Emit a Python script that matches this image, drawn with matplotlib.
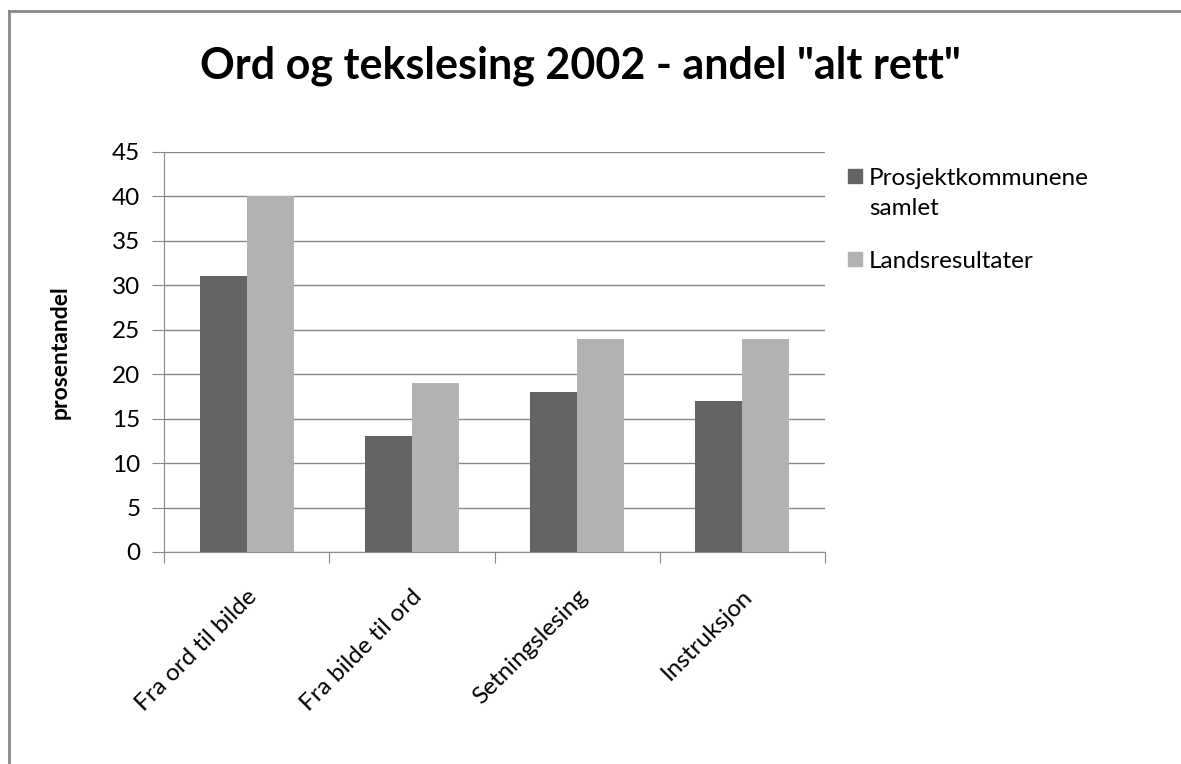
import matplotlib
matplotlib.use('Agg')
import numpy as np
import matplotlib.pyplot as plt
from matplotlib.patches import Rectangle
from matplotlib.lines import Line2D

categories = ['Fra ord til bilde', 'Fra bilde til ord', 'Setningslesing', 'Instruksjon']
prosjekt = [31, 13, 18, 17]
lands = [40, 19, 24, 24]
series_names = ['Prosjektkommunene\nsamlet', 'Landsresultater']
colors = ['#646464', '#b2b2b2']

plt.rcParams['font.family'] = ['Lato', 'DejaVu Sans']

fig = plt.figure(figsize=(11.81, 7.64), dpi=100)
ax = fig.add_axes([164/1181, 1 - 552/764, (825 - 164)/1181, 400/764])

x = np.arange(len(categories))
w = 0.285
ax.bar(x - w/2, prosjekt, w, color=colors[0], zorder=3)
ax.bar(x + w/2, lands, w, color=colors[1], zorder=3)

ax.set_xlim(-0.5, len(categories) - 0.5)
ax.set_ylim(0, 45)
ax.set_yticks(range(0, 46, 5))
ax.yaxis.grid(True, color='#888888', linewidth=1, zorder=0)
ax.tick_params(axis='y', length=9, color='#888888', labelsize=17.5, pad=8)

ax.set_xticks(np.arange(-0.5, len(categories), 1.0))
ax.set_xticklabels([])
ax.tick_params(axis='x', length=8, color='#888888', direction='out')
for i, lab in enumerate(categories):
    ax.text(i + 0.04, -4.6, lab, rotation=45, rotation_mode='anchor',
            ha='right', va='center', fontsize=17.5)

for s in ['top', 'right']:
    ax.spines[s].set_visible(False)
for s in ['left', 'bottom']:
    ax.spines[s].set_color('#888888')

fig.text(60/1181, 1 - 352/764, 'prosentandel', rotation=90, ha='center', va='center',
         fontsize=16.5, fontweight='bold')
fig.text(580/1181, 1 - 66/764, 'Ord og tekslesing 2002 - andel "alt rett"',
         ha='center', va='center', fontsize=31, fontweight='bold')

# legend
leg_base = [185, 268]
for name, c, yy in zip(series_names, colors, leg_base):
    fig.patches.append(Rectangle((848/1181, 1 - (yy - 2)/764), 14/1181, 14/764,
                                 transform=fig.transFigure, color=c))
    for k, line in enumerate(name.split('\n')):
        fig.text(869/1181, 1 - (yy + 30 * k)/764, line, ha='left', va='baseline',
                 fontsize=17.5)

# outer frame (left and top edges visible)
fig.add_artist(Line2D([9/1181, 9/1181], [0, 1 - 11/764], transform=fig.transFigure,
                      color='#888888', linewidth=2))
fig.add_artist(Line2D([9/1181, 1], [1 - 11/764, 1 - 11/764], transform=fig.transFigure,
                      color='#888888', linewidth=2))

fig.savefig('out.png', dpi=100)
